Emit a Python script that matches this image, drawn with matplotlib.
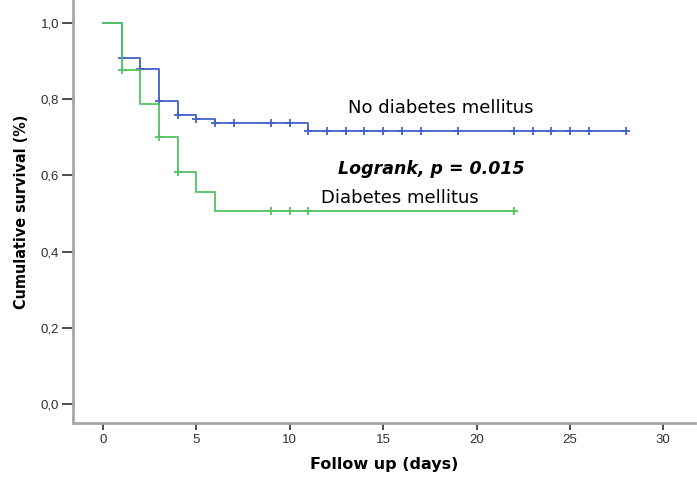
import matplotlib
matplotlib.use('Agg')
import matplotlib.pyplot as plt
import numpy as np

# Kaplan-Meier steps
dm_times = [0, 1, 2, 3, 4, 5, 6, 22]
dm_surv = [1.0, 0.877, 0.787, 0.701, 0.609, 0.556, 0.507, 0.507]
dm_censor = [1, 3, 4, 9, 10, 11, 22]

no_times = [0, 1, 2, 3, 4, 5, 6, 11, 28]
no_surv = [1.0, 0.908, 0.879, 0.795, 0.759, 0.748, 0.738, 0.717, 0.717]
no_censor = [1, 2, 3, 4, 5, 6, 7, 9, 10, 11, 12, 13, 14, 15, 16, 17, 19,
             22, 23, 24, 25, 26, 28]

x_ticks = [0, 5, 10, 15, 20, 25, 30]
y_ticks = [0.0, 0.2, 0.4, 0.6, 0.8, 1.0]
y_tick_labels = ['0,0', '0,2', '0,4', '0,6', '0,8', '1,0']

blue = '#4262c6'
green = '#52c462'


def censor_values(times, surv, censor):
    idx = np.searchsorted(times, censor, side='right') - 1
    return np.array(surv)[idx]


fig = plt.figure(figsize=(6.97, 4.78), dpi=100)
ax = fig.add_axes([73 / 697, 1 - 423 / 478, (695 - 73) / 697, 423 / 478])

ax.step(no_times, no_surv, where='post', color=blue, lw=1.3)
ax.plot(no_censor, censor_values(no_times, no_surv, no_censor), '+',
        color=blue, ms=6, mew=1.3)
ax.step(dm_times, dm_surv, where='post', color=green, lw=1.3)
ax.plot(dm_censor, censor_values(dm_times, dm_surv, dm_censor), '+',
        color=green, ms=6, mew=1.3)

ax.set_xlim(-1.61, 31.7)
ax.set_ylim(-0.05, 1.06)
ax.set_xticks(x_ticks)
ax.set_xticklabels([str(t) for t in x_ticks], family='Liberation Sans',
                   fontsize=9.5, color='#303030')
ax.set_yticks(y_ticks)
ax.set_yticklabels(y_tick_labels, family='Liberation Sans', fontsize=9.5,
                   color='#303030')

for s in ['top', 'right']:
    ax.spines[s].set_visible(False)
for s in ['left', 'bottom']:
    ax.spines[s].set_color('#a8a8a8')
    ax.spines[s].set_linewidth(2)
ax.tick_params(axis='y', length=8, width=1.3, color='#404040', pad=2)
ax.tick_params(axis='x', length=5, width=1.3, color='#404040', pad=3)

ax.set_xlabel('Follow up (days)', family='DejaVu Sans', fontweight='bold',
              fontsize=11.5, labelpad=8)
ax.set_ylabel('Cumulative survival (%)', family='DejaVu Sans',
              stretch='condensed', fontweight='bold', fontsize=11.5,
              labelpad=8)

ax.text(18.1, 0.776, 'No diabetes mellitus', family='DejaVu Sans',
        fontsize=13, ha='center', va='center')
ax.text(17.6, 0.617, 'Logrank, p = 0.015', family='DejaVu Sans',
        fontsize=12.5, fontweight='bold', style='italic',
        ha='center', va='center')
ax.text(15.9, 0.54, 'Diabetes mellitus', family='DejaVu Sans',
        fontsize=13, ha='center', va='center')

fig.savefig('out.png', dpi=100)
